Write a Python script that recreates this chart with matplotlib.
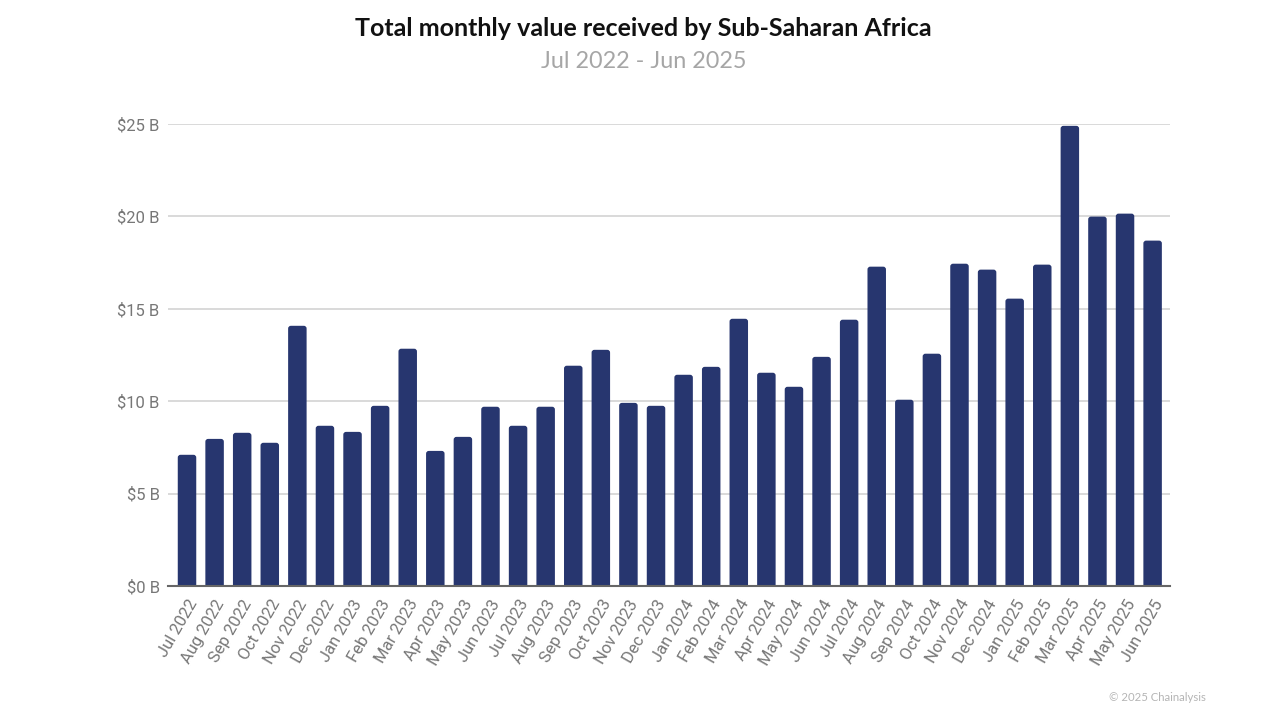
import matplotlib
matplotlib.use("Agg")
import matplotlib.pyplot as plt
from matplotlib.patches import FancyBboxPatch

months = [
    "Jul 2022", "Aug 2022", "Sep 2022", "Oct 2022", "Nov 2022", "Dec 2022",
    "Jan 2023", "Feb 2023", "Mar 2023", "Apr 2023", "May 2023", "Jun 2023",
    "Jul 2023", "Aug 2023", "Sep 2023", "Oct 2023", "Nov 2023", "Dec 2023",
    "Jan 2024", "Feb 2024", "Mar 2024", "Apr 2024", "May 2024", "Jun 2024",
    "Jul 2024", "Aug 2024", "Sep 2024", "Oct 2024", "Nov 2024", "Dec 2024",
    "Jan 2025", "Feb 2025", "Mar 2025", "Apr 2025", "May 2025", "Jun 2025",
]
values = [
    7.1, 7.96, 8.29, 7.75, 14.08, 8.67,
    8.34, 9.75, 12.84, 7.31, 8.07, 9.7,
    8.67, 9.7, 11.92, 12.78, 9.91, 9.75,
    11.43, 11.86, 14.46, 11.54, 10.78, 12.4,
    14.41, 17.28, 10.08, 12.57, 17.44, 17.12,
    15.55, 17.39, 24.9, 19.99, 20.15, 18.69,
]
y_ticks = [0, 5, 10, 15, 20, 25]
y_labels = ["$0 B", "$5 B", "$10 B", "$15 B", "$20 B", "$25 B"]

BAR_COLOR = "#27366f"
W, H = 1280, 720

fig = plt.figure(figsize=(12.8, 7.2), dpi=100, facecolor="white")
ax = fig.add_axes([168 / W, 1 - 586 / H, (1170 - 168) / W, (586 - 124) / H])

x = list(range(len(months)))
ax.set_xlim(-0.689, 35.63)
ax.set_ylim(0, 25)

# rounded tops, the bottoms run below zero and get clipped by the axes
bar_w = 0.67
aspect = (1002 / 36.319) / (462 / 25)
for xi, v in zip(x, values):
    ax.add_patch(FancyBboxPatch((xi - bar_w / 2, -1), bar_w, v + 1,
                                boxstyle="round,pad=0,rounding_size=0.1",
                                mutation_aspect=aspect, fc=BAR_COLOR, ec="none", zorder=3))

ax.set_yticks(y_ticks)
ax.set_yticklabels(y_labels, family="Roboto", fontsize=12, color="#777777")
ax.set_xticks(x)
ax.set_xticklabels(months, rotation=60, ha="right", va="top", rotation_mode="anchor",
                   family="Roboto", fontsize=12, color="#777777")
ax.tick_params(axis="both", length=0)
ax.tick_params(axis="y", pad=6)
ax.tick_params(axis="x", pad=8)
ax.grid(axis="y", color="#d9d9d9", linewidth=1.4, zorder=0)
ax.set_axisbelow(True)
for side in ["top", "right", "left"]:
    ax.spines[side].set_visible(False)
ax.spines["bottom"].set_color("#666666")
ax.spines["bottom"].set_linewidth(1.5)
ax.spines["bottom"].set_zorder(4)

fig.text(643 / W, 1 - 29 / H, "Total monthly value received by Sub-Saharan Africa",
         family="Lato", fontweight="bold", fontsize=18, color="#111111", ha="center", va="center")
fig.text(644 / W, 1 - 62 / H, "Jul 2022 - Jun 2025",
         family="Lato", fontsize=16.8, color="#a6a6a6", ha="center", va="center")
fig.text(1206 / W, 1 - 697.5 / H, "© 2025 Chainalysis",
         family="Lato", fontsize=8.2, color="#b5b5b5", ha="right", va="center")

fig.savefig("out.png", dpi=100)
